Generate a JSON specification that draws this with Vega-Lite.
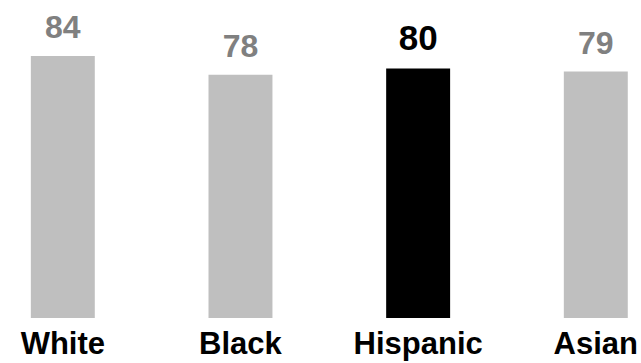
{
  "$schema": "https://vega.github.io/schema/vega-lite/v6.json",
  "width": 641,
  "height": 312,
  "autosize": "none",
  "padding": {"left": 0, "right": 0, "top": 6, "bottom": 45},
  "background": "white",
  "config": {"view": {"stroke": null}, "font": "Liberation Sans"},
  "data": {
    "values": [
      {"group": "White", "value": 84},
      {"group": "Black", "value": 78},
      {"group": "Hispanic", "value": 80},
      {"group": "Asian", "value": 79}
    ]
  },
  "encoding": {
    "x": {
      "field": "group",
      "type": "nominal",
      "sort": null,
      "scale": {"paddingInner": 0.64, "paddingOuter": 0.124, "align": 0.7},
      "axis": {
        "title": null,
        "domain": false,
        "ticks": false,
        "tickSize": 0,
        "labelAngle": 0,
        "labelPadding": 11,
        "labelFont": "Liberation Sans",
        "labelFontSize": 31,
        "labelFontWeight": "bold",
        "labelColor": "#000000",
        "labelOverlap": false,
        "labelBound": false
      }
    },
    "y": {
      "field": "value",
      "type": "quantitative",
      "scale": {"domain": [0, 100]},
      "axis": null
    }
  },
  "layer": [
    {
      "mark": {"type": "bar"},
      "encoding": {
        "color": {
          "condition": {"test": "datum.group === 'Hispanic'", "value": "#000000"},
          "value": "#bfbfbf"
        }
      }
    },
    {
      "mark": {"type": "text", "baseline": "alphabetic", "dy": -18, "fontWeight": "bold", "font": "Liberation Sans"},
      "encoding": {
        "text": {"field": "value", "type": "quantitative"},
        "color": {
          "condition": {"test": "datum.group === 'Hispanic'", "value": "#000000"},
          "value": "#808080"
        },
        "size": {
          "condition": {"test": "datum.group === 'Hispanic'", "value": 35},
          "value": 32
        }
      }
    }
  ]
}
